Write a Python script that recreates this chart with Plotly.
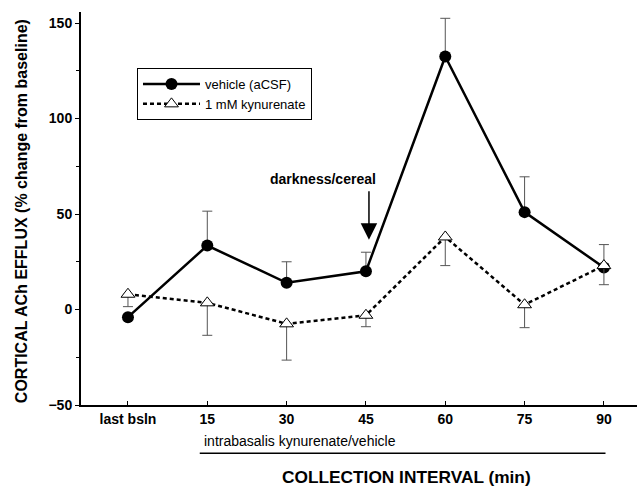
import plotly.graph_objects as go

categories = ["last bsln", "15", "30", "45", "60", "75", "90"]
vehicle = [-4, 33.5, 14, 20, 132.5, 51, 22]
vehicle_err_up = [0, 18, 11, 10, 20, 18.5, 12]
kyn = [8, 3.5, -7.5, -3, 38, 2.5, 23]
kyn_err_down = [6.5, 17, 19, 6, 15, 12, 10]

FONT = "Liberation Sans, Arial, Helvetica, sans-serif"
xi = list(range(len(categories)))

fig = go.Figure()
fig.add_trace(go.Scatter(
    x=xi, y=vehicle, name="vehicle (aCSF)", mode="lines+markers",
    line=dict(color="black", width=2.5),
    marker=dict(symbol="circle", size=12, color="black"),
    error_y=dict(type="data", symmetric=False, array=vehicle_err_up,
                 arrayminus=[0]*len(vehicle), color="#555", thickness=1, width=5),
))
fig.add_trace(go.Scatter(
    x=xi, y=kyn, name="1 mM kynurenate", mode="lines+markers",
    line=dict(color="black", width=2.5, dash="4px,3px"),
    marker=dict(symbol="triangle-up", size=12, color="white",
                line=dict(color="black", width=1)),
    error_y=dict(type="data", symmetric=False, array=[0]*len(kyn),
                 arrayminus=kyn_err_down, color="#555", thickness=1, width=5),
))

fig.update_layout(
    width=639, height=487,
    margin=dict(l=81, r=2, t=12, b=82),
    plot_bgcolor="white", paper_bgcolor="white",
    font=dict(family=FONT, color="black"),
    showlegend=True,
    legend=dict(x=0.1007, y=0.8575, xanchor="left", yanchor="top",
                bordercolor="black", borderwidth=1, bgcolor="white",
                itemwidth=57,
                font=dict(size=13, family=FONT), tracegroupgap=0),
    xaxis=dict(range=[-0.592, 6.417], tickvals=xi, ticktext=categories,
               showgrid=False, zeroline=False, showline=True, linecolor="black",
               linewidth=2, ticks="inside", ticklen=4, tickcolor="black",
               tickfont=dict(size=14, family=FONT, weight="bold")),
    yaxis=dict(range=[-50, 155.8], tickvals=[-50, 0, 50, 100, 150],
               showgrid=False, zeroline=False, showline=True, linecolor="black",
               linewidth=2, ticks="outside", ticklen=4, tickcolor="black",
               minor=dict(tickvals=[-25, 25, 75, 125], ticks="outside", ticklen=3,
                          tickcolor="black"),
               tickfont=dict(size=14, family=FONT, weight="bold")),
)

# arrow and its label
fig.add_annotation(x=3.038, y=36.6, ax=0, ay=-50, xref="x", yref="y",
                   text="", showarrow=True, arrowhead=2, arrowsize=2.2,
                   arrowwidth=1.5, arrowcolor="black")
fig.add_annotation(x=3.151, y=68.6, xref="x", yref="y", xanchor="right", yanchor="middle",
                   text="<b>darkness/cereal</b>",
                   showarrow=False, font=dict(size=14, family=FONT))
fig.add_annotation(x=-0.107, y=0.492, xref="paper", yref="paper",
                   xanchor="center", yanchor="middle",
                   text="<b>CORTICAL ACh EFFLUX (% change from baseline)</b>",
                   textangle=-90, showarrow=False, font=dict(size=16, family=FONT))
fig.add_annotation(x=0.93, y=-0.0916, xref="x", yref="paper", xanchor="left",
                   yanchor="middle",
                   text="intrabasalis kynurenate/vehicle", showarrow=False,
                   font=dict(size=14, family=FONT))
fig.add_shape(type="line", x0=0.905, x1=6.02, y0=-0.123, y1=-0.123, xref="x", yref="paper",
              line=dict(color="black", width=1.5))
fig.add_annotation(x=0.586, y=-0.183, xref="paper", yref="paper",
                   xanchor="center", yanchor="middle",
                   text="<b>COLLECTION INTERVAL (min)</b>", showarrow=False,
                   font=dict(size=17.3, family=FONT))

fig.write_html("out.html", config={"displayModeBar": False},
               post_script="document.body.style.margin='0';document.body.style.padding='0';")
